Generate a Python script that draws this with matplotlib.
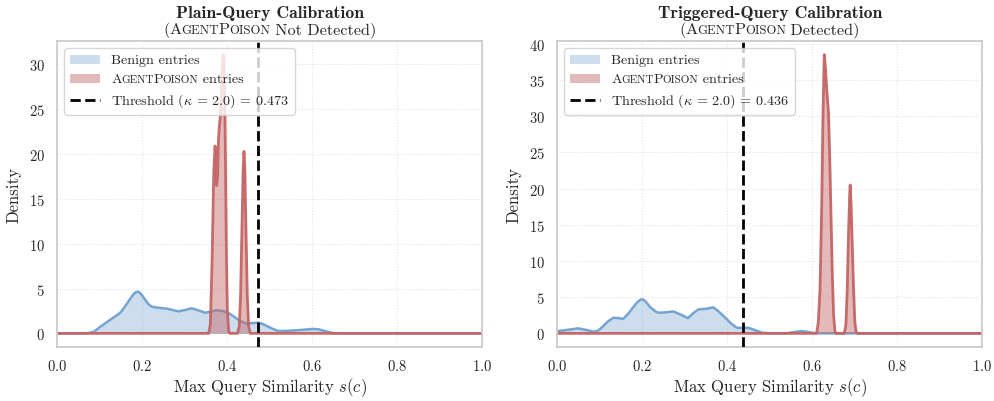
import matplotlib
matplotlib.use("Agg")
import matplotlib.pyplot as plt
from matplotlib.offsetbox import (TextArea, HPacker, VPacker, DrawingArea,
                                  AnchoredOffsetbox)
from matplotlib.patches import Rectangle
from matplotlib.lines import Line2D

plt.rcParams.update({
    "font.family": ["cmr10", "DejaVu Serif"],
    "mathtext.fontset": "cm",
    "axes.formatter.use_mathtext": True,
    "axes.unicode_minus": False,
})

# ---- data: kernel density curves (similarity, density) ----
plain_benign_x = [0.0, 0.070, 0.085, 0.100, 0.124, 0.144, 0.150, 0.165, 0.172, 0.178,
                  0.184, 0.189, 0.194, 0.200, 0.206, 0.212, 0.217, 0.222, 0.230, 0.240,
                  0.257, 0.272, 0.285, 0.300, 0.316, 0.330, 0.348, 0.362, 0.375, 0.388,
                  0.399, 0.410, 0.422, 0.434, 0.446, 0.460, 0.473, 0.483, 0.493, 0.507,
                  0.520, 0.540, 0.571, 0.590, 0.602, 0.615, 0.630, 0.649, 0.660, 1.0]
plain_benign_y = [0.0, 0.0, 0.15, 0.70, 1.50, 2.15, 2.40, 3.40, 3.90, 4.30,
                  4.58, 4.65, 4.55, 4.20, 3.80, 3.40, 3.15, 2.99, 2.90, 2.85,
                  2.76, 2.60, 2.46, 2.60, 2.80, 2.60, 2.30, 2.45, 2.58, 2.50,
                  2.39, 2.05, 1.64, 1.30, 1.08, 1.15, 1.20, 1.05, 0.82, 0.50,
                  0.26, 0.28, 0.37, 0.45, 0.50, 0.45, 0.25, 0.02, 0.0, 0.0]

plain_poison_x = [0.0, 0.356, 0.360, 0.364, 0.368, 0.371, 0.373, 0.375, 0.377, 0.379,
                  0.381, 0.384, 0.387, 0.390, 0.392, 0.394, 0.396, 0.398, 0.400, 0.403,
                  0.406, 0.424, 0.428, 0.431, 0.434, 0.437, 0.439, 0.441, 0.444, 0.447,
                  0.450, 0.454, 1.0]
plain_poison_y = [0.0, 0.0, 1.0, 8.0, 18.0, 20.9, 19.5, 16.5, 17.5, 21.5,
                  23.0, 24.5, 28.0, 31.1, 30.5, 26.0, 17.0, 8.0, 2.5, 0.3,
                  0.0, 0.0, 0.8, 4.0, 11.0, 18.0, 20.3, 18.5, 11.0, 4.0,
                  0.8, 0.0, 0.0]

trig_benign_x = [0.0, 0.020, 0.049, 0.070, 0.085, 0.095, 0.104, 0.118, 0.132, 0.145,
                 0.155, 0.168, 0.185, 0.192, 0.197, 0.200, 0.204, 0.212, 0.218, 0.225,
                 0.232, 0.238, 0.255, 0.273, 0.290, 0.307, 0.320, 0.332, 0.350, 0.367,
                 0.380, 0.395, 0.410, 0.422, 0.435, 0.449, 0.465, 0.481, 0.500, 0.540,
                 0.560, 0.575, 0.590, 0.605, 0.620, 1.0]
trig_benign_y = [0.30, 0.45, 0.69, 0.45, 0.23, 0.35, 0.78, 1.60, 2.16, 2.10,
                 2.00, 2.80, 4.10, 4.50, 4.68, 4.69, 4.60, 4.10, 3.65, 3.30,
                 3.00, 2.85, 2.90, 3.03, 2.60, 2.11, 2.80, 3.31, 3.40, 3.59,
                 3.00, 2.16, 1.30, 0.78, 0.75, 0.78, 0.45, 0.10, 0.0, 0.02,
                 0.20, 0.32, 0.20, 0.03, 0.0, 0.0]

trig_poison_x = [0.0, 0.610, 0.614, 0.618, 0.622, 0.625, 0.628, 0.631, 0.634, 0.638,
                 0.641, 0.644, 0.647, 0.650, 0.653, 0.656, 0.675, 0.679, 0.682, 0.685,
                 0.688, 0.689, 0.691, 0.694, 0.697, 0.700, 0.703, 0.706, 1.0]
trig_poison_y = [0.0, 0.0, 1.5, 6.0, 17.5, 30.0, 38.5, 36.5, 33.5, 30.5,
                 24.0, 16.0, 8.0, 2.5, 0.3, 0.0, 0.0, 1.2, 6.0, 13.5,
                 19.5, 20.5, 18.0, 12.0, 6.0, 1.5, 0.2, 0.0, 0.0]

thresholds = [0.473, 0.436]
kappa = 2.0
titles = ["Plain-Query Calibration", "Triggered-Query Calibration"]
statuses = ["Not Detected", "Detected"]

BLUE = "#6f9fd0"
RED = "#c46464"
INK = "#262626"
GRID = "#e2e2e2"
EDGE = "#cccccc"


def small_caps(size):
    """Pieces spelling the method name in small capitals."""
    parts = [("A", 1.0), ("GENT", 0.78), ("P", 1.0), ("OISON", 0.78)]
    return [TextArea(t, textprops=dict(size=size * s, color=INK, family="cmr10"))
            for t, s in parts]


def add_title(ax, title, status):
    line1 = TextArea(title, textprops=dict(size=12.7, color=INK, family="cmb10"))
    pieces = [TextArea("(", textprops=dict(size=11.7, color=INK))]
    pieces += small_caps(11.7)
    pieces += [TextArea(" " + status + ")", textprops=dict(size=11.7, color=INK))]
    line2 = HPacker(children=pieces, align="baseline", pad=0, sep=-0.3)
    box = VPacker(children=[line1, line2], align="center", pad=0, sep=1.0)
    anchored = AnchoredOffsetbox(loc="lower center", child=box, pad=0, borderpad=0.25,
                                 frameon=False, bbox_to_anchor=(0.5, 1.0),
                                 bbox_transform=ax.transAxes)
    ax.add_artist(anchored)


def add_legend(ax, thr):
    fs = 10.2
    hw, hh = 21.5, 7.0

    def patch_handle(color, alpha):
        da = DrawingArea(hw, hh, 0, 0)
        da.add_artist(Rectangle((0, 0), hw, hh, facecolor=color, alpha=alpha, lw=0))
        return da

    def line_handle():
        da = DrawingArea(hw, hh, 0, 0)
        da.add_artist(Line2D([0, hw], [hh / 2, hh / 2], color="black", lw=2,
                             linestyle="--"))
        return da

    tp = dict(size=fs, color=INK)
    row1 = HPacker(children=[patch_handle(BLUE, 0.35),
                             TextArea("Benign entries", textprops=tp)],
                   align="center", pad=0, sep=8)
    label2 = HPacker(children=small_caps(fs) + [TextArea(" entries", textprops=tp)],
                     align="baseline", pad=0, sep=-0.3)
    row2 = HPacker(children=[patch_handle(RED, 0.45), label2],
                   align="center", pad=0, sep=8)
    label3 = r"Threshold $(\kappa\,=\,%.1f)\,=\,%.3f$" % (kappa, thr)
    row3 = HPacker(children=[line_handle(), TextArea(label3, textprops=tp)],
                   align="center", pad=0, sep=8)
    box = VPacker(children=[row1, row2, row3], align="left", pad=0, sep=5.0)
    leg = AnchoredOffsetbox(loc="upper left", child=box, pad=0.4, borderpad=0.5,
                            frameon=True, prop=dict(size=fs))
    leg.patch.set_boxstyle("round,pad=0,rounding_size=0.2")
    leg.patch.set_facecolor("white")
    leg.patch.set_edgecolor(EDGE)
    leg.patch.set_alpha(0.8)
    leg.patch.set_linewidth(1.0)
    leg.set_zorder(5)
    ax.add_artist(leg)


fig = plt.figure(figsize=(9.94, 4.02), dpi=100)
axes = [fig.add_axes([0.0577, 0.1336, 0.4276, 0.7627]),
        fig.add_axes([0.5607, 0.1336, 0.4276, 0.7627])]

curves = [(plain_benign_x, plain_benign_y, plain_poison_x, plain_poison_y),
          (trig_benign_x, trig_benign_y, trig_poison_x, trig_poison_y)]

for ax, (bx, by, px, py), thr, title, status in zip(axes, curves, thresholds,
                                                   titles, statuses):
    ax.fill_between(bx, by, color=BLUE, alpha=0.35, lw=0, zorder=2)
    ax.plot(bx, by, color=BLUE, lw=1.8, alpha=0.95, zorder=2.1)
    ax.fill_between(px, py, color=RED, alpha=0.45, lw=0, zorder=2.2)
    ax.plot(px, py, color=RED, lw=2.0, alpha=0.95, zorder=2.3)
    ax.axvline(thr, color="black", lw=2.0, linestyle="--", zorder=3)

    ax.set_xlim(0, 1)
    ax.margins(y=0.05)
    ax.set_xticks([0.0, 0.2, 0.4, 0.6, 0.8, 1.0])
    ax.grid(True, color=GRID, linestyle=":", lw=0.8)
    ax.set_axisbelow(True)
    for sp in ax.spines.values():
        sp.set_color(EDGE)
        sp.set_linewidth(1.3)
    ax.tick_params(axis="x", length=0, pad=8, labelsize=10.5, labelcolor=INK)
    ax.tick_params(axis="y", length=0, pad=9, labelsize=10.5, labelcolor=INK)
    ax.set_xlabel(r"Max Query Similarity $s(c)$", fontsize=12, color=INK, labelpad=1.5)
    ax.set_ylabel("Density", fontsize=12, color=INK, labelpad=5)

    add_title(ax, title, status)
    add_legend(ax, thr)

fig.savefig("out.png", dpi=100)
